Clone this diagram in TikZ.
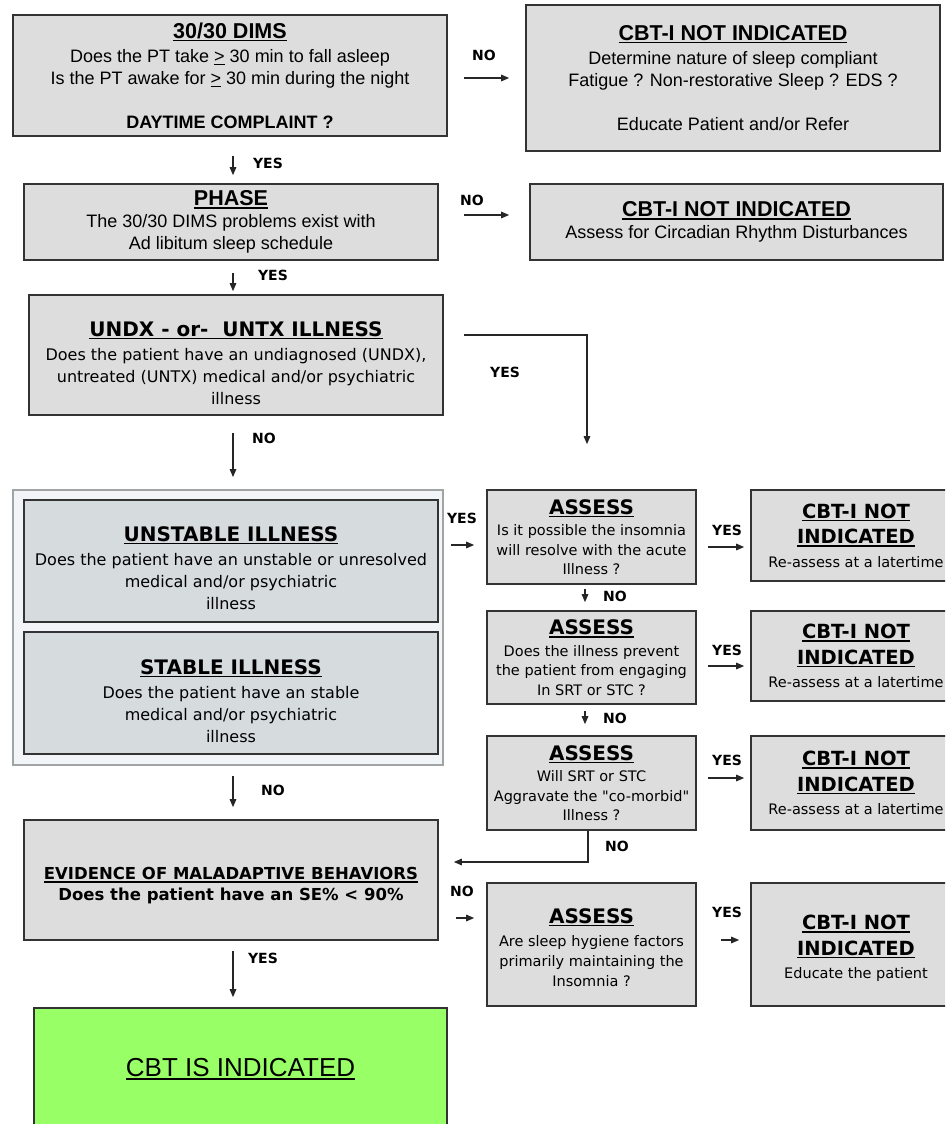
\documentclass[tikz,border=0pt]{standalone}
\usepackage{fontspec}
\setmainfont{Liberation Sans}
\newfontfamily\vf{DejaVu Sans}
\usetikzlibrary{arrows.meta,calc}
\definecolor{boxgray}{HTML}{DDDDDD}
\definecolor{boxline}{HTML}{333333}
\definecolor{illfill}{HTML}{D6DBDE}
\definecolor{contfill}{HTML}{F1F5F8}
\definecolor{contline}{HTML}{A0A4A4}
\definecolor{cbtgreen}{HTML}{99FF66}
\newcommand\myul[1]{\setbox0\hbox{#1}\leavevmode\rlap{\rule[-3pt]{\wd0}{1.5pt}}\box0\relax}
\newcommand\thinul[1]{\setbox0\hbox{#1}\leavevmode\rlap{\rule[-2.5pt]{\wd0}{0.9pt}}\box0\relax}
\newcommand\topsp[1]{\rule{0pt}{#1}}
\newcommand\aT[1]{{\fontsize{21.5}{24}\selectfont\bfseries\myul{#1}}}
\newcommand\vT[1]{{\vf\fontsize{20}{23}\selectfont\bfseries\myul{#1}}}
\newcommand\vR[1]{{\vf\fontsize{19.5}{23}\selectfont\bfseries\myul{#1}}}
\begin{document}
\begin{tikzpicture}[x=1pt,y=-1pt,
  gbox/.style={draw=boxline, line width=1.6pt, fill=boxgray, inner sep=0pt, align=center},
  ibox/.style={gbox, fill=illfill},
  contbox/.style={draw=contline, line width=1.8pt, fill=contfill, inner sep=0pt},
  greenbox/.style={gbox, fill=cbtgreen},
  afont/.style={font=\fontsize{18}{22}\selectfont},
  vfont/.style={font=\vf\fontsize{16}{22}\selectfont},
  vsmall/.style={font=\vf\fontsize{14.5}{19.5}\selectfont},
  lab/.style={font=\vf\bfseries\fontsize{14}{16}\selectfont, inner sep=0pt},
  arr/.style={-{Triangle[length=8pt,width=6.5pt]}, line width=1.3pt, draw=black!85}
]
\useasboundingbox (0,0) rectangle (945,1124);
\clip (0,0) rectangle (945,1124);

% ---- top section (Arial-like) ----
\node[gbox, afont, minimum width=434pt, minimum height=121pt] (b1) at (230,75.5)
  {\aT{30/30 DIMS}\\[2pt]
   Does the PT take \thinul{>} 30 min to fall asleep\\
   Is the PT awake for \thinul{>} 30 min during the night\\[22pt]
   \textbf{DAYTIME COMPLAINT ?}};
\node[gbox, afont, minimum width=414pt, minimum height=146pt] (n1) at (733,78)
  {\aT{CBT-I NOT INDICATED}\\[2pt]
   Determine nature of sleep compliant\\
   Fatigue ? Non-restorative Sleep ? EDS ?\\[22pt]
   Educate Patient and/or Refer};
\node[gbox, afont, minimum width=414pt, minimum height=76pt] (ph) at (231,222)
  {\aT{PHASE}\\
   The 30/30 DIMS problems exist with\\
   Ad libitum sleep schedule};
\node[gbox, afont, minimum width=413pt, minimum height=76pt] (n2) at (736.5,222)
  {\aT{CBT-I NOT INDICATED}\\
   Assess for Circadian Rhythm Disturbances};

% ---- middle section (Verdana-like) ----
\node[gbox, vfont, minimum width=414pt, minimum height=120pt] (ux) at (236,355)
  {\topsp{31pt}\vT{UNDX - or-~~UNTX ILLNESS}\\[2pt]
   Does the patient have an undiagnosed (UNDX),\\
   untreated (UNTX) medical and/or psychiatric\\
   illness};

\node[contbox, minimum width=430pt, minimum height=275pt] (cont) at (228,627.5) {};
\node[ibox, vfont, minimum width=414pt, minimum height=122pt] (us) at (231,561)
  {\topsp{29pt}\vT{UNSTABLE ILLNESS}\\[2pt]
   Does the patient have an unstable or unresolved\\
   medical and/or psychiatric\\
   illness};
\node[ibox, vfont, minimum width=414pt, minimum height=122pt] (st) at (231,693)
  {\topsp{31pt}\vT{STABLE ILLNESS}\\[2pt]
   Does the patient have an stable\\
   medical and/or psychiatric\\
   illness};

% ---- assess column ----
\node[gbox, vsmall, minimum width=209pt, minimum height=94pt] (a1) at (591.5,537)
  {\vT{ASSESS}\\[2pt]
   Is it possible the insomnia\\
   will resolve with the acute\\
   Illness ?};
\node[gbox, vsmall, minimum width=209pt, minimum height=93pt] (a2) at (591.5,657.5)
  {\vT{ASSESS}\\[2pt]
   Does the illness prevent\\
   the patient from engaging\\
   In SRT or STC ?};
\node[gbox, vsmall, minimum width=209pt, minimum height=94pt] (a3) at (591.5,783)
  {\vT{ASSESS}\\[2pt]
   Will SRT or STC\\
   Aggravate the "co-morbid"\\
   Illness ?};
\node[gbox, vsmall, font=\vf\fontsize{14.5}{20}\selectfont, minimum width=209pt, minimum height=123pt] (a4) at (591.5,944.5)
  {\topsp{21pt}\vT{ASSESS}\\[3pt]
   Are sleep hygiene factors\\
   primarily maintaining the\\
   Insomnia ?};

% ---- right column ----
\node[gbox, vsmall, minimum width=210pt, minimum height=91pt] (n3) at (856,535.5)
  {\vR{CBT-I NOT}\\[6pt] \vR{INDICATED}\\[4pt] Re-assess at a latertime};
\node[gbox, vsmall, minimum width=210pt, minimum height=90pt] (n4) at (856,656)
  {\vR{CBT-I NOT}\\[6pt] \vR{INDICATED}\\[4pt] Re-assess at a latertime};
\node[gbox, vsmall, minimum width=210pt, minimum height=94pt] (n5) at (856,783)
  {\vR{CBT-I NOT}\\[6pt] \vR{INDICATED}\\[4pt] Re-assess at a latertime};
\node[gbox, vsmall, minimum width=210pt, minimum height=123pt] (n6) at (856,944.5)
  {\topsp{22pt}\vR{CBT-I NOT}\\[6pt] \vR{INDICATED}\\[4pt] Educate the patient};

% ---- bottom left ----
\node[gbox, font=\vf\bfseries\fontsize{16.5}{21}\selectfont, minimum width=414pt, minimum height=120pt] (ev) at (231,880)
  {\topsp{24pt}\myul{EVIDENCE OF MALADAPTIVE BEHAVIORS}\\
   Does the patient have an SE\% < 90\%};
\node[greenbox, font=\fontsize{26}{30}\selectfont, minimum width=413pt, minimum height=122pt] (gr) at (240.5,1069)
  {\myul{CBT IS INDICATED}};

% ---- connectors ----
\draw[arr] ($(b1.east)+(16,2.5)$) -- ($(b1.east -| n1.west)+(-16,2.5)$);
\draw[arr] ($(b1.south)+(3,19)$) -- ($(ph.north)+(2,-8)$);
\draw[arr] ($(ph.east)+(25,-7)$) -- ($(ph.east -| n2.west)+(-20,-7)$);
\draw[arr] ($(ph.south)+(2,12)$) -- ($(ux.north)+(-3,-3)$);
\draw[arr] ($(ux.east)+(20,-20)$) -| ($(a1.north)+(-4.5,-45)$);
\draw[arr] ($(ux.south)+(-3,17)$) -- ($(cont.north)+(5,-12)$);
\draw[arr] ($(cont.east)+(7,-82.5)$) -- ($(a1.west)+(-12,8)$);
\draw[arr] ($(a1.east)+(11,10)$) -- ($(n3.west)+(-6,11.5)$);
\draw[arr] ($(a1.south)+(-6.5,4)$) -- ($(a2.north)+(-6.5,-8)$);
\draw[arr] ($(a2.east)+(11,8.5)$) -- ($(n4.west)+(-6,10)$);
\draw[arr] ($(a2.south)+(-6.5,6)$) -- ($(a3.north)+(-6.5,-11)$);
\draw[arr] ($(a3.east)+(11,-5)$) -- ($(n5.west)+(-6,-5)$);
\draw[arr] ($(a3.south)+(-3.5,0)$) |- ($(ev.east)+(15,-18)$);
\draw[arr] ($(cont.south)+(5,10)$) -- ($(ev.north)+(2,-12)$);
\draw[arr] ($(ev.east)+(17,38)$) -- ($(a4.west)+(-12,-26.5)$);
\draw[arr] ($(a4.east)+(24,-4.5)$) -- ($(n6.west)+(-11,-4.5)$);
\draw[arr] ($(ev.south)+(2,10)$) -- ($(gr.north)+(-7.5,-10)$);

% ---- labels ----
\node[lab] (l1) at (484,55) {NO};
\node[lab] (l2) at (268,163) {YES};
\node[lab] (l3) at (472,200) {NO};
\node[lab] (l4) at (273,275) {YES};
\node[lab] (l5) at (505,372) {YES};
\node[lab] (l6) at (264,438) {NO};
\node[lab] (l7) at (462,518) {YES};
\node[lab] (l8) at (727,530) {YES};
\node[lab] (l9) at (615,596) {NO};
\node[lab] (l10) at (727,650) {YES};
\node[lab] (l11) at (615,718) {NO};
\node[lab] (l12) at (727,760) {YES};
\node[lab] (l13) at (617,846) {NO};
\node[lab] (l14) at (273,790) {NO};
\node[lab] (l15) at (462,891) {NO};
\node[lab] (l16) at (727,912) {YES};
\node[lab] (l17) at (263,958) {YES};
\end{tikzpicture}
\end{document}
